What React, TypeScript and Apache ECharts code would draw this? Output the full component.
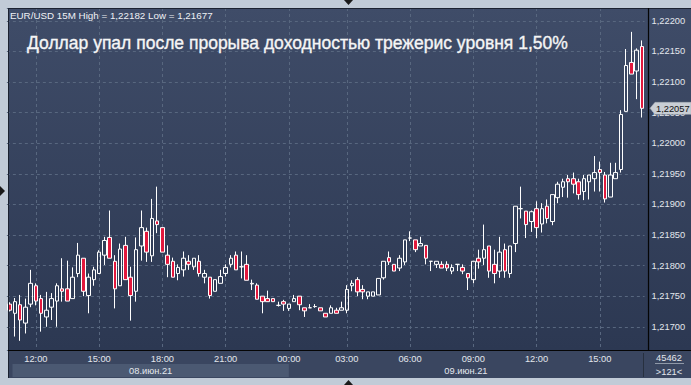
import React, { useEffect, useRef } from 'react';
import * as echarts from 'echarts';

// ---------- texts ----------
const headerText = 'EUR/USD 15M High = 1,22182 Low = 1,21677';
const titleText = 'Доллар упал после прорыва доходностью трежерис уровня 1,50%';
const dayLabels = ['08.июн.21', '09.июн.21'];
const cornerTop = '45462';
const cornerBottom = '>121<';

// ---------- categories (15-minute bars, 08.06 10:45 .. 09.06 17:00) ----------
const categories: string[] = [];
{
  let day = 8;
  let mins = 10 * 60 + 45;
  while (categories.length < 121) {
    const hh = String(Math.floor(mins / 60)).padStart(2, '0');
    const mm = String(mins % 60).padStart(2, '0');
    const label = `${day} ${hh}:${mm}`;
    if (label !== '9 00:15') categories.push(label);
    mins += 15;
    if (mins >= 1440) { mins -= 1440; day += 1; }
  }
}

// ---------- OHLC values ----------
const opens = [
  1.21737, 1.21722, 1.21736, 1.21706, 1.21737, 1.21767, 1.21746, 1.21716, 1.21732, 1.21742,
  1.21762, 1.21762, 1.21746, 1.21787, 1.21812, 1.21751, 1.21777, 1.21787, 1.21817, 1.21846,
  1.21807, 1.21767, 1.21833, 1.21781, 1.21758, 1.21832, 1.21856, 1.21816, 1.21873, 1.21862,
  1.21817, 1.21807, 1.21787, 1.21793, 1.21807, 1.21798, 1.21807, 1.21781, 1.21781, 1.21758,
  1.21771, 1.21787, 1.21802, 1.21817, 1.21798, 1.21802, 1.21770, 1.21768, 1.21750, 1.21746,
  1.21746, 1.21735, 1.21741, 1.21730, 1.21741, 1.21750, 1.21731, 1.21731, 1.21733, 1.21731,
  1.21722, 1.21722, 1.21727, 1.21727, 1.21727, 1.21767, 1.21777, 1.21761, 1.21750, 1.21750,
  1.21752, 1.21780, 1.21813, 1.21802, 1.21796, 1.21806, 1.21845, 1.21842, 1.21832, 1.21833,
  1.21807, 1.21802, 1.21802, 1.21802, 1.21791, 1.21802, 1.21797, 1.21787, 1.21777, 1.21812,
  1.21812, 1.21832, 1.21802, 1.21791, 1.21826, 1.21787, 1.21836, 1.21893, 1.21889, 1.21872,
  1.21893, 1.21868, 1.21897, 1.21872, 1.21911, 1.21928, 1.21942, 1.21942, 1.21937, 1.21921,
  1.21937, 1.21942, 1.21957, 1.21948, 1.21912, 1.21942, 1.21957, 1.22052, 1.22132, 1.22118,
  1.22158,
];
const closes = [
  1.21727, 1.21741, 1.21711, 1.21732, 1.21771, 1.21742, 1.21722, 1.21727, 1.21746, 1.21767,
  1.21758, 1.21742, 1.21781, 1.21817, 1.21758, 1.21781, 1.21793, 1.21822, 1.21841, 1.21812,
  1.21762, 1.21827, 1.21777, 1.21751, 1.21826, 1.21862, 1.21822, 1.21877, 1.21867, 1.21822,
  1.21802, 1.21781, 1.21797, 1.21812, 1.21802, 1.21812, 1.21787, 1.21787, 1.21751, 1.21777,
  1.21782, 1.21797, 1.21812, 1.21793, 1.21798, 1.21776, 1.21771, 1.21745, 1.21741, 1.21741,
  1.21741, 1.21735, 1.21737, 1.21737, 1.21746, 1.21736, 1.21726, 1.21731, 1.21733, 1.21726,
  1.21716, 1.21731, 1.21722, 1.21731, 1.21761, 1.21771, 1.21757, 1.21757, 1.21757, 1.21757,
  1.21779, 1.21807, 1.21806, 1.21791, 1.21812, 1.21842, 1.21845, 1.21826, 1.21836, 1.21812,
  1.21807, 1.21807, 1.21796, 1.21796, 1.21797, 1.21802, 1.21791, 1.21780, 1.21807, 1.21806,
  1.21826, 1.21791, 1.21787, 1.21822, 1.21791, 1.21832, 1.21897, 1.21893, 1.21867, 1.21888,
  1.21862, 1.21893, 1.21877, 1.21916, 1.21933, 1.21937, 1.21937, 1.21933, 1.21916, 1.21942,
  1.21948, 1.21952, 1.21952, 1.21909, 1.21948, 1.21952, 1.22047, 1.22127, 1.22113, 1.22152,
  1.22057,
];
const lows = [
  1.21725, 1.21684, 1.21677, 1.21689, 1.21732, 1.21735, 1.21692, 1.21700, 1.21711, 1.21700,
  1.21741, 1.21742, 1.21746, 1.21781, 1.21750, 1.21722, 1.21767, 1.21787, 1.21801, 1.21812,
  1.21730, 1.21767, 1.21777, 1.21710, 1.21741, 1.21808, 1.21806, 1.21806, 1.21853, 1.21822,
  1.21781, 1.21781, 1.21776, 1.21782, 1.21793, 1.21793, 1.21782, 1.21771, 1.21746, 1.21758,
  1.21771, 1.21782, 1.21797, 1.21793, 1.21779, 1.21776, 1.21760, 1.21745, 1.21722, 1.21741,
  1.21741, 1.21733, 1.21726, 1.21726, 1.21741, 1.21727, 1.21716, 1.21731, 1.21731, 1.21726,
  1.21716, 1.21722, 1.21722, 1.21727, 1.21722, 1.21758, 1.21750, 1.21745, 1.21745, 1.21750,
  1.21752, 1.21777, 1.21801, 1.21791, 1.21791, 1.21801, 1.21840, 1.21822, 1.21832, 1.21802,
  1.21791, 1.21796, 1.21796, 1.21791, 1.21786, 1.21791, 1.21786, 1.21760, 1.21771, 1.21795,
  1.21801, 1.21780, 1.21771, 1.21780, 1.21780, 1.21780, 1.21822, 1.21877, 1.21845, 1.21855,
  1.21845, 1.21854, 1.21869, 1.21866, 1.21902, 1.21912, 1.21911, 1.21918, 1.21908, 1.21907,
  1.21908, 1.21921, 1.21921, 1.21903, 1.21912, 1.21942, 1.21952, 1.22052, 1.22113, 1.22072,
  1.22042,
];
const highs = [
  1.21740, 1.21747, 1.21752, 1.21746, 1.21793, 1.21771, 1.21752, 1.21757, 1.21755, 1.21771,
  1.21812, 1.21808, 1.21797, 1.21837, 1.21812, 1.21787, 1.21798, 1.21825, 1.21847, 1.21890,
  1.21817, 1.21836, 1.21847, 1.21798, 1.21846, 1.21890, 1.21862, 1.21909, 1.21929, 1.21862,
  1.21833, 1.21813, 1.21802, 1.21823, 1.21817, 1.21812, 1.21817, 1.21793, 1.21781, 1.21777,
  1.21793, 1.21802, 1.21817, 1.21823, 1.21823, 1.21817, 1.21777, 1.21771, 1.21750, 1.21759,
  1.21746, 1.21741, 1.21744, 1.21737, 1.21752, 1.21750, 1.21731, 1.21737, 1.21737, 1.21731,
  1.21722, 1.21735, 1.21731, 1.21741, 1.21768, 1.21776, 1.21781, 1.21768, 1.21757, 1.21757,
  1.21779, 1.21807, 1.21823, 1.21802, 1.21817, 1.21842, 1.21856, 1.21842, 1.21847, 1.21833,
  1.21807, 1.21807, 1.21807, 1.21807, 1.21802, 1.21802, 1.21802, 1.21787, 1.21807, 1.21826,
  1.21867, 1.21832, 1.21826, 1.21847, 1.21836, 1.21832, 1.21897, 1.21929, 1.21889, 1.21890,
  1.21905, 1.21902, 1.21908, 1.21916, 1.21937, 1.21942, 1.21948, 1.21952, 1.21942, 1.21948,
  1.21948, 1.21979, 1.21970, 1.21953, 1.21968, 1.21968, 1.22054, 1.22154, 1.22182, 1.22155,
  1.22168,
];

const FONT = '"Liberation Sans", Arial, sans-serif';
const LABEL = '#e3e7ed';

const isMajor = (val: string) => {
  const t = val.split(' ')[1];
  return t.endsWith(':00') && parseInt(t, 10) % 3 === 0;
};
const fmtPrice = (v: number) => v.toFixed(5).replace('.', ',');

export default function App() {
  const ref = useRef<HTMLDivElement>(null);

  useEffect(() => {
    if (!ref.current) return;
    const chart = echarts.init(ref.current, undefined, { renderer: 'svg' });
    const data = opens.map((o, i) => [o, closes[i], lows[i], highs[i]]);

    chart.setOption({
      animation: false,
      backgroundColor: 'transparent',
      grid: { left: 6.87, right: 46.43, top: 8, bottom: 35, containLabel: false },
      xAxis: {
        type: 'category',
        data: categories,
        boundaryGap: true,
        axisLine: { show: false },
        axisTick: { show: false },
        axisLabel: {
          interval: (_i: number, v: string) => isMajor(v),
          formatter: (v: string) => v.split(' ')[1],
          color: LABEL,
          fontSize: 9.3,
          fontFamily: FONT,
          margin: 4,
        },
        splitLine: {
          show: true,
          alignWithLabel: true,
          interval: (_i: number, v: string) => isMajor(v),
          lineStyle: { color: '#58677f', width: 1, type: [3, 3] },
        },
      },
      yAxis: {
        type: 'value',
        position: 'right',
        min: 1.21662,
        max: 1.22221,
        splitNumber: 11,
        scale: true,
        axisLine: { show: false },
        axisTick: { show: false },
        axisLabel: {
          showMinLabel: false,
          showMaxLabel: false,
          formatter: (v: number) => fmtPrice(v),
          color: LABEL,
          fontSize: 9.3,
          fontFamily: FONT,
          margin: 7,
        },
        splitLine: { show: true, lineStyle: { color: '#58677f', width: 1, type: [3, 3] } },
      },
      series: [
        {
          type: 'candlestick',
          data,
          barWidth: 4,
          itemStyle: {
            color: 'rgba(0,0,0,0)',
            color0: '#e2183d',
            borderColor: '#ffffff',
            borderColor0: '#ffffff',
            borderWidth: 1,
          },
          z: 3,
        },
      ],
    });

    const px = (i: number) => chart.convertToPixel({ xAxisIndex: 0 }, categories[i]) as number;
    const midIdx = categories.indexOf('9 00:00');
    const x0 = px(0);
    const xMid = px(midIdx);
    const lastClose = closes[closes.length - 1];
    const yL = chart.convertToPixel({ yAxisIndex: 0 }, lastClose) as number;

    const txt = (x: number, y: number, text: string, size: number, fill: string, align = 'left', extra: any = {}) => ({
      type: 'text',
      x,
      y,
      style: { text, fill, fontSize: size, fontFamily: FONT, textAlign: align, textVerticalAlign: 'middle', ...extra },
      z: 50,
    });

    chart.setOption({
      graphic: [
        // borders
        { type: 'line', shape: { x1: 8.5, y1: 8, x2: 8.5, y2: 378 }, style: { stroke: '#1b2230', lineWidth: 1 }, z: 40 },
        { type: 'line', shape: { x1: 8, y1: 8.5, x2: 691, y2: 8.5 }, style: { stroke: '#1b2230', lineWidth: 1 }, z: 40 },
        { type: 'line', shape: { x1: 648.5, y1: 8, x2: 648.5, y2: 350 }, style: { stroke: '#050505', lineWidth: 1.2 }, z: 40 },
        { type: 'line', shape: { x1: 8, y1: 350.5, x2: 691, y2: 350.5 }, style: { stroke: '#050505', lineWidth: 1.2 }, z: 40 },
        { type: 'line', shape: { x1: 643.5, y1: 353, x2: 643.5, y2: 377 }, style: { stroke: '#27303f', lineWidth: 1 }, z: 40 },
        // date band
        { type: 'rect', shape: { x: x0 + 3, y: 364, width: xMid - x0 - 3, height: 13 }, style: { fill: '#4b5972' }, z: 30 },
        txt((x0 + 3 + xMid) / 2, 370.5, dayLabels[0], 9.3, LABEL, 'center'),
        txt((xMid + 643) / 2, 370.5, dayLabels[1], 9.3, LABEL, 'center'),
        // corner box
        txt(669, 357.5, cornerTop, 9.3, LABEL, 'center'),
        { type: 'line', shape: { x1: 655, y1: 363.5, x2: 684, y2: 363.5 }, style: { stroke: '#8f99a8', lineWidth: 1 }, z: 40 },
        txt(669, 371.5, cornerBottom, 9.3, LABEL, 'center'),
        // header + title
        txt(10, 15, headerText, 9.8, '#eef1f5'),
        txt(27, 43, titleText, 17.5, '#f5f5f5', 'left', { stroke: '#f5f5f5', lineWidth: 0.35 }),
        // current price tag
        {
          type: 'polygon',
          shape: { points: [[650, yL], [655, yL - 6], [691, yL - 6], [691, yL + 6], [655, yL + 6]] },
          style: { fill: '#c9ced5', stroke: '#aab1ba', lineWidth: 0.5 },
          z: 45,
        },
        txt(656, yL + 0.5, fmtPrice(lastClose), 9.3, '#111111'),
        // frame arrows
        { type: 'polygon', shape: { points: [[344, 0], [353, 0], [348.5, 5]] }, style: { fill: '#1a1a1a' }, z: 60 },
        { type: 'polygon', shape: { points: [[0, 186], [5, 191], [0, 196]] }, style: { fill: '#1a1a1a' }, z: 60 },
        { type: 'polygon', shape: { points: [[344, 385], [353, 385], [348.5, 380]] }, style: { fill: '#1a1a1a' }, z: 60 },
      ],
    });

    return () => chart.dispose();
  }, []);

  return (
    <div style={{ position: 'fixed', left: 0, top: 0, width: 691, height: 385, background: '#c1cbd7', overflow: 'hidden' }}>
      <div style={{ position: 'absolute', left: 8, top: 8, width: 683, height: 342, background: 'linear-gradient(#3f4c68, #2c3852)' }} />
      <div style={{ position: 'absolute', left: 8, top: 350, width: 683, height: 28, background: '#3a4660' }} />
      <div ref={ref} style={{ position: 'absolute', left: 0, top: 0, width: 691, height: 385 }} />
    </div>
  );
}
